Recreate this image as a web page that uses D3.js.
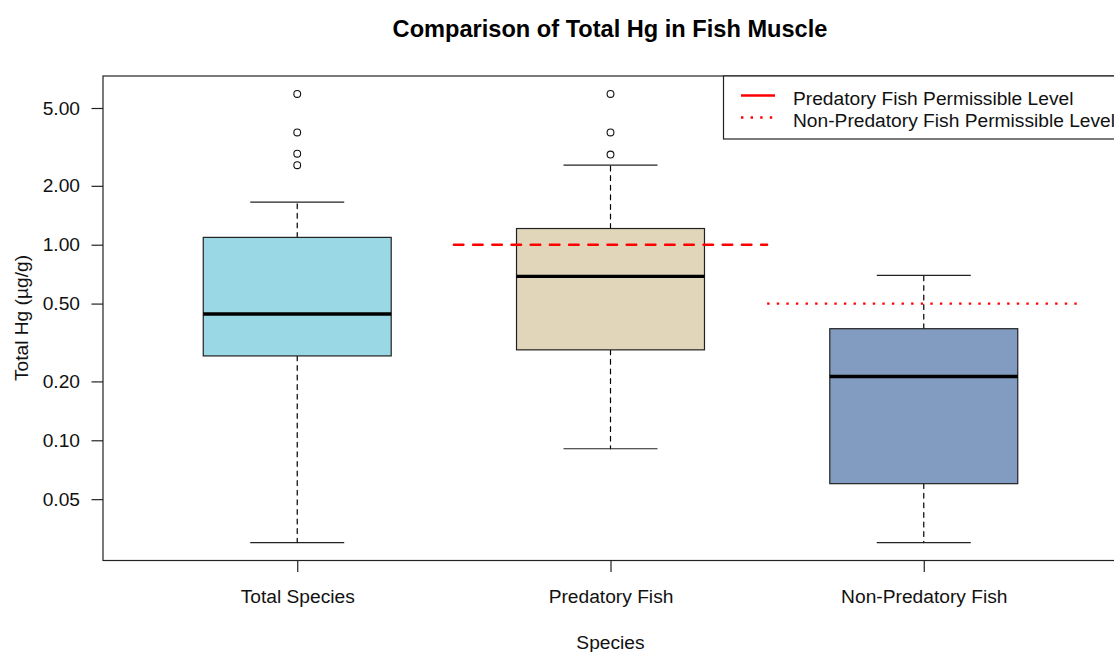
<!DOCTYPE html>
<html>
<head>
<meta charset="utf-8">
<script src="https://cdn.jsdelivr.net/npm/d3@7"></script>
<style>
  html, body { margin: 0; padding: 0; background: #fff; }
  svg { display: block; font-family: "Liberation Sans", Arial, sans-serif; }
</style>
</head>
<body>
<svg id="chart" width="1114" height="652"></svg>
<script>
// ---- Data ----
const categories = ["Total Species", "Predatory Fish", "Non-Predatory Fish"];
const boxColors = ["#9AD8E6", "#E1D5BA", "#829BC0"];
const whiskerLow = [0.030, 0.0905, 0.030];
const quart1 = [0.270, 0.290, 0.0600];
const medians = [0.442, 0.689, 0.212];
const quart3 = [1.09, 1.21, 0.372];
const whiskerHigh = [1.65, 2.55, 0.697];
const outliers = [[5.9, 3.75, 2.92, 2.55], [5.9, 3.75, 2.89], []];
const yTicks = [0.05, 0.10, 0.20, 0.50, 1.00, 2.00, 5.00];
const limitLabels = ["Predatory Fish Permissible Level", "Non-Predatory Fish Permissible Level"];
const limitValues = [1.0, 0.5];
const limitSpans = [[1.5, 2.5], [2.5, 3.5]];

const svg = d3.select("#chart");
const W = 1114, H = 652;
const plot = { left: 103, right: 1118, top: 76, bottom: 560.5 };
const S = 1.2; // line-width scale

// y domain: data range extended by 4% in log space (R style)
const allVals = [...whiskerLow, ...whiskerHigh, ...outliers.flat()];
const lmin = Math.log10(d3.min(allVals)), lmax = Math.log10(d3.max(allVals));
const ext = (lmax - lmin) * 0.04;
const y = d3.scaleLog().domain([Math.pow(10, lmin - ext), Math.pow(10, lmax + ext)])
  .range([plot.bottom, plot.top]);
const x = d3.scaleLinear().domain([0.38, 3.62]).range([plot.left, plot.right]);

const halfBox = 0.3, halfCap = 0.15;
const fs = 19.2;

svg.append("rect").attr("width", W).attr("height", H).attr("fill", "#fff");

const g = svg.append("g");

categories.forEach((c, i) => {
  const cx = x(i + 1);
  // whiskers
  g.append("line").attr("x1", cx).attr("x2", cx).attr("y1", y(quart3[i])).attr("y2", y(whiskerHigh[i]))
    .attr("stroke", "#000").attr("stroke-width", S).attr("stroke-dasharray", "4.8,4.8").attr("stroke-linecap", "round");
  g.append("line").attr("x1", cx).attr("x2", cx).attr("y1", y(quart1[i])).attr("y2", y(whiskerLow[i]))
    .attr("stroke", "#000").attr("stroke-width", S).attr("stroke-dasharray", "4.8,4.8").attr("stroke-linecap", "round");
  // caps
  [whiskerHigh[i], whiskerLow[i]].forEach(v => {
    g.append("line").attr("x1", x(i + 1 - halfCap)).attr("x2", x(i + 1 + halfCap))
      .attr("y1", y(v)).attr("y2", y(v)).attr("stroke", "#222").attr("stroke-width", S);
  });
  // box
  g.append("rect").attr("x", x(i + 1 - halfBox)).attr("width", x(i + 1 + halfBox) - x(i + 1 - halfBox))
    .attr("y", y(quart3[i])).attr("height", y(quart1[i]) - y(quart3[i]))
    .attr("fill", boxColors[i]).attr("stroke", "#222").attr("stroke-width", S);
  // median
  g.append("line").attr("x1", x(i + 1 - halfBox)).attr("x2", x(i + 1 + halfBox))
    .attr("y1", y(medians[i])).attr("y2", y(medians[i])).attr("stroke", "#000").attr("stroke-width", 3.4);
  // outliers
  outliers[i].forEach(v => {
    g.append("circle").attr("cx", cx).attr("cy", y(v)).attr("r", 3.4)
      .attr("fill", "none").attr("stroke", "#111").attr("stroke-width", 1.1);
  });
});

// permissible level lines
limitValues.forEach((v, k) => {
  g.append("line").attr("x1", x(limitSpans[k][0])).attr("x2", x(limitSpans[k][1]))
    .attr("y1", y(v)).attr("y2", y(v))
    .attr("stroke", "#FF0000").attr("stroke-width", 2.4)
    .attr("stroke-dasharray", k === 0 ? "9.6,9.6" : "2.4,7.2")
    .attr("stroke-linecap", k === 0 ? "round" : "butt");
});

// frame
svg.append("rect").attr("x", plot.left).attr("y", plot.top)
  .attr("width", plot.right - plot.left).attr("height", plot.bottom - plot.top)
  .attr("fill", "none").attr("stroke", "#222").attr("stroke-width", S);

// y axis
const yAxis = d3.axisLeft(y).tickValues(yTicks).tickFormat(d3.format(".2f")).tickSize(11.5).tickPadding(11.5);
const ya = svg.append("g").attr("transform", `translate(${plot.left},0)`).call(yAxis);
ya.select(".domain").remove();
ya.selectAll(".tick line").attr("stroke", "#222").attr("stroke-width", S);
ya.selectAll(".tick text").attr("font-size", fs).attr("fill", "#111")
  .attr("font-family", "'Liberation Sans', Arial, sans-serif");

// x axis
const xAxis = d3.axisBottom(x).tickValues([1, 2, 3]).tickFormat(d => categories[d - 1]).tickSize(11.5).tickPadding(0);
const xa = svg.append("g").attr("transform", `translate(0,${plot.bottom})`).call(xAxis);
xa.select(".domain").remove();
xa.selectAll(".tick line").attr("stroke", "#222").attr("stroke-width", S);
xa.selectAll(".tick text").attr("font-size", fs).attr("fill", "#111")
  .attr("font-family", "'Liberation Sans', Arial, sans-serif")
  .attr("dy", null).attr("y", 603 - plot.bottom);

// axis titles
svg.append("text").attr("x", 610.5).attr("y", 649).attr("text-anchor", "middle")
  .attr("font-size", fs).attr("fill", "#111").text("Species");
svg.append("text").attr("transform", "translate(28,318) rotate(-90)").attr("text-anchor", "middle")
  .attr("font-size", fs).attr("fill", "#111").text("Total Hg (µg/g)");

// title
svg.append("text").attr("x", 610).attr("y", 37).attr("text-anchor", "middle")
  .attr("font-size", 23.6).attr("font-weight", "bold").attr("fill", "#000")
  .text("Comparison of Total Hg in Fish Muscle");

// legend
const lg = svg.append("g");
lg.append("rect").attr("x", 723.5).attr("y", plot.top).attr("width", plot.right - 723.5).attr("height", 139 - plot.top)
  .attr("fill", "#fff").attr("stroke", "#222").attr("stroke-width", S);
const rowsY = [95.5, 117.5];
limitLabels.forEach((lab, k) => {
  lg.append("line").attr("x1", 741).attr("x2", 775).attr("y1", rowsY[k]).attr("y2", rowsY[k])
    .attr("stroke", "#FF0000").attr("stroke-width", 2.4)
    .attr("stroke-dasharray", k === 0 ? null : "2.4,7.2");
  lg.append("text").attr("x", 793).attr("y", rowsY[k] + 2.5).attr("dy", "0.35em")
    .attr("font-size", fs).attr("fill", "#111").text(lab);
});
</script>
</body>
</html>
